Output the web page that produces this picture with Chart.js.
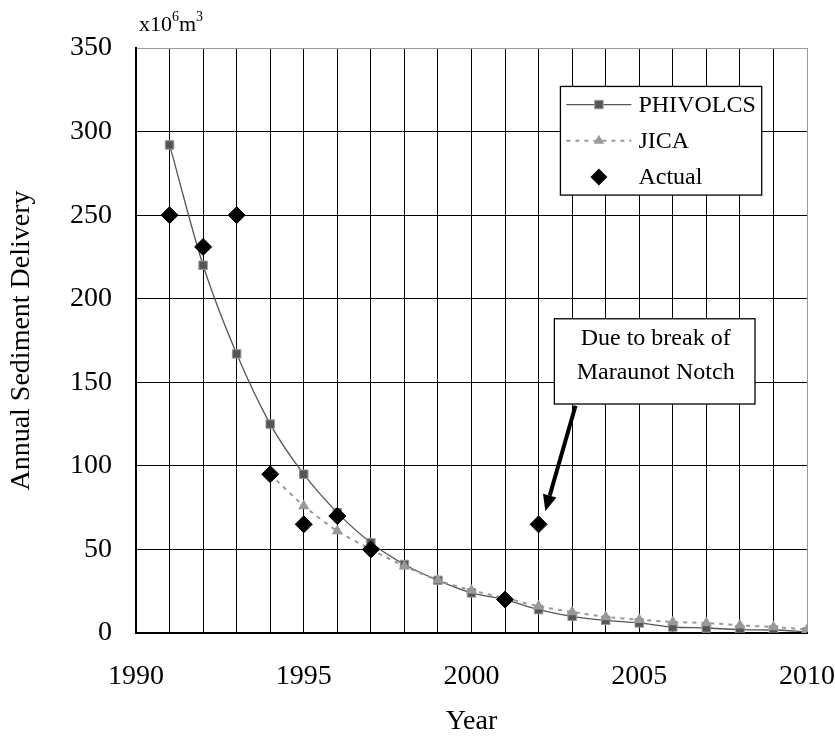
<!DOCTYPE html>
<html>
<head>
<meta charset="utf-8">
<script src="https://cdn.jsdelivr.net/npm/chart.js@4/dist/chart.umd.min.js"></script>
<style>
  html, body { margin: 0; padding: 0; background: #fff; }
  #wrap { width: 835px; height: 744px; }
</style>
</head>
<body>
<div id="wrap"><canvas id="chart" width="835" height="744"></canvas></div>
<script>
// --- data ---
const phivolcsYears = [1991, 1992, 1993, 1994, 1995, 1996, 1997, 1998, 1999, 2000,
                       2001, 2002, 2003, 2004, 2005, 2006, 2007, 2008, 2009, 2010];
const phivolcsValues = [292, 220, 167, 125, 95, 72, 54, 41, 31.5, 24,
                        20, 14, 10, 7.6, 6, 3.6, 3, 2, 1.8, 0.8];

const jicaYears = [1994, 1995, 1996, 1997, 1998, 1999, 2000, 2001, 2002,
                   2003, 2004, 2005, 2006, 2007, 2008, 2009, 2010];
const jicaValues = [95, 76, 61, 50, 40, 31.5, 25.5, 21, 16,
                    12.6, 9.6, 8, 6.6, 6, 4.6, 3.6, 2];

const actualYears = [1991, 1992, 1993, 1994, 1995, 1996, 1997, 2001, 2002];
const actualValues = [250, 231, 250, 95, 65, 70, 50, 20, 65];

const xTickLabels = [1990, 1995, 2000, 2005, 2010];
const yTicks = [0, 50, 100, 150, 200, 250, 300, 350];

const seriesNames = ["PHIVOLCS", "JICA", "Actual"];
const noteLines = ["Due to break of", "Maraunot Notch"];

const SERIF = "'Liberation Serif', 'Times New Roman', serif";

function pairs(xs, ys) {
    return xs.map((x, i) => ({ x, y: ys[i] }));
}

// legend box, note box and arrow, all in data units
const legendBox = { x0: 2002.65, x1: 2008.65, y0: 327, y1: 262 };
const noteBox = { x0: 2002.47, x1: 2008.45, y0: 188, y1: 137 };
const arrowFrom = { x: 2003.1, y: 136 };
const arrowTo = { x: 2002.2, y: 73 };

function drawMarker(ctx, style, x, y) {
    ctx.save();
    ctx.setLineDash([]);
    if (style === "rect") {
        ctx.fillStyle = "#555";
        ctx.strokeStyle = "#999";
        ctx.lineWidth = 1;
        ctx.fillRect(x - 4.2, y - 4.2, 8.4, 8.4);
        ctx.strokeRect(x - 4.2, y - 4.2, 8.4, 8.4);
    } else if (style === "triangle") {
        ctx.fillStyle = "#999";
        ctx.beginPath();
        ctx.moveTo(x, y - 6);
        ctx.lineTo(x + 5.2, y + 3);
        ctx.lineTo(x - 5.2, y + 3);
        ctx.closePath();
        ctx.fill();
    } else {
        ctx.fillStyle = "#000";
        ctx.beginPath();
        ctx.moveTo(x, y - 8.5);
        ctx.lineTo(x + 8.5, y);
        ctx.lineTo(x, y + 8.5);
        ctx.lineTo(x - 8.5, y);
        ctx.closePath();
        ctx.fill();
    }
    ctx.restore();
}

const overlayPlugin = {
    id: "overlay",
    afterDatasetsDraw(chart) {
        const { ctx, scales: { x, y }, chartArea } = chart;

        // unit label above the axis
        ctx.save();
        ctx.fillStyle = "#000";
        ctx.textBaseline = "alphabetic";
        ctx.textAlign = "left";
        let ux = chartArea.left + 3;
        const uy = 31;
        ctx.font = `22px ${SERIF}`;
        ctx.fillText("x10", ux, uy);
        ux += ctx.measureText("x10").width;
        ctx.font = `14px ${SERIF}`;
        ctx.fillText("6", ux, uy - 10);
        ux += ctx.measureText("6").width;
        ctx.font = `22px ${SERIF}`;
        ctx.fillText("m", ux, uy);
        ux += ctx.measureText("m").width;
        ctx.font = `14px ${SERIF}`;
        ctx.fillText("3", ux, uy - 10);
        ctx.restore();

        // legend
        const lx0 = x.getPixelForValue(legendBox.x0), lx1 = x.getPixelForValue(legendBox.x1);
        const ly0 = y.getPixelForValue(legendBox.y0), ly1 = y.getPixelForValue(legendBox.y1);
        ctx.save();
        ctx.fillStyle = "#fff";
        ctx.fillRect(lx0, ly0, lx1 - lx0, ly1 - ly0);
        ctx.strokeStyle = "#000";
        ctx.lineWidth = 1.3;
        ctx.strokeRect(lx0, ly0, lx1 - lx0, ly1 - ly0);
        const rowH = (ly1 - ly0) / 3;
        const styles = ["rect", "triangle", "rectRot"];
        seriesNames.forEach((name, i) => {
            const ry = ly0 + rowH * (i + 0.5);
            const s0 = lx0 + 6, s1 = lx0 + 71, sm = (s0 + s1) / 2;
            if (i === 0) {
                ctx.strokeStyle = "#555"; ctx.lineWidth = 1.3; ctx.setLineDash([]);
                ctx.beginPath(); ctx.moveTo(s0, ry); ctx.lineTo(s1, ry); ctx.stroke();
            } else if (i === 1) {
                ctx.strokeStyle = "#999"; ctx.lineWidth = 2; ctx.setLineDash([4, 5]);
                ctx.beginPath(); ctx.moveTo(s0, ry); ctx.lineTo(s1, ry); ctx.stroke();
            }
            drawMarker(ctx, styles[i], sm, ry);
            ctx.fillStyle = "#000";
            ctx.font = `24px ${SERIF}`;
            ctx.textBaseline = "middle";
            ctx.textAlign = "left";
            ctx.fillText(name, lx0 + 78, ry + 1);
        });
        ctx.restore();

        // note box
        const nx0 = x.getPixelForValue(noteBox.x0), nx1 = x.getPixelForValue(noteBox.x1);
        const ny0 = y.getPixelForValue(noteBox.y0), ny1 = y.getPixelForValue(noteBox.y1);
        ctx.save();
        ctx.fillStyle = "#fff";
        ctx.fillRect(nx0, ny0, nx1 - nx0, ny1 - ny0);
        ctx.strokeStyle = "#000";
        ctx.lineWidth = 1.3;
        ctx.strokeRect(nx0, ny0, nx1 - nx0, ny1 - ny0);
        ctx.fillStyle = "#000";
        ctx.font = `24px ${SERIF}`;
        ctx.textAlign = "center";
        ctx.textBaseline = "middle";
        ctx.fillText(noteLines[0], (nx0 + nx1) / 2 + 1, ny0 + 20);
        ctx.fillText(noteLines[1], (nx0 + nx1) / 2 + 1, ny0 + 54);

        // arrow
        const ax0 = x.getPixelForValue(arrowFrom.x), ay0 = y.getPixelForValue(arrowFrom.y);
        const ax1 = x.getPixelForValue(arrowTo.x), ay1 = y.getPixelForValue(arrowTo.y);
        const ang = Math.atan2(ay1 - ay0, ax1 - ax0);
        const headLen = 16, headW = 7;
        const bx = ax1 - headLen * Math.cos(ang), by = ay1 - headLen * Math.sin(ang);
        ctx.strokeStyle = "#000";
        ctx.lineWidth = 4;
        ctx.beginPath(); ctx.moveTo(ax0, ay0); ctx.lineTo(bx, by); ctx.stroke();
        ctx.beginPath();
        ctx.moveTo(ax1, ay1);
        ctx.lineTo(bx + headW * Math.sin(ang), by - headW * Math.cos(ang));
        ctx.lineTo(bx - headW * Math.sin(ang), by + headW * Math.cos(ang));
        ctx.closePath();
        ctx.fill();
        ctx.restore();
    },
};

new Chart(document.getElementById("chart"), {
    type: "scatter",
    data: {
        datasets: [
            {
                label: seriesNames[0],
                data: pairs(phivolcsYears, phivolcsValues),
                showLine: true,
                borderColor: "#555",
                borderWidth: 1.3,
                cubicInterpolationMode: "monotone",
                pointStyle: "rect",
                pointRadius: 6,
                pointBackgroundColor: "#555",
                pointBorderColor: "#999",
                pointBorderWidth: 1,
                order: 3,
            },
            {
                label: seriesNames[1],
                data: pairs(jicaYears, jicaValues),
                showLine: true,
                borderColor: "#999",
                borderWidth: 2,
                borderDash: [4, 5],
                tension: 0.2,
                pointStyle: "triangle",
                pointRadius: 6.5,
                pointBackgroundColor: "#999",
                pointBorderColor: "#999",
                pointBorderWidth: 0,
                order: 2,
            },
            {
                label: seriesNames[2],
                data: pairs(actualYears, actualValues),
                showLine: false,
                pointStyle: "rectRot",
                pointRadius: 8.5,
                pointBackgroundColor: "#000",
                pointBorderColor: "#000",
                pointBorderWidth: 1,
                order: 1,
            },
        ],
    },
    options: {
        responsive: false,
        animation: false,
        events: [],
        layout: { padding: { top: 48, right: 0, left: 0, bottom: 0 } },
        plugins: {
            legend: { display: false },
            tooltip: { enabled: false },
        },
        scales: {
            x: {
                type: "linear",
                min: 1990,
                max: 2010,
                afterFit(scale) {
                    scale.height = 111;
                    scale.paddingRight = 28;
                },
                afterBuildTicks(scale) {
                    const ticks = [];
                    for (let v = 1990; v <= 2010; v++) ticks.push({ value: v });
                    scale.ticks = ticks;
                },
                ticks: {
                    autoSkip: false,
                    maxRotation: 0,
                    padding: 27,
                    color: "#000",
                    font: { family: SERIF, size: 28 },
                    callback: (v) => (xTickLabels.includes(v) ? String(v) : ""),
                },
                grid: {
                    drawTicks: false,
                    color: (c) => (c.tick && c.tick.value === 2010 ? "#999" : "#000"),
                    lineWidth: 1,
                },
                border: { display: true, color: "#000", width: 2 },
                title: {
                    display: true,
                    text: "Year",
                    color: "#000",
                    font: { family: SERIF, size: 28 },
                    padding: { top: 0, bottom: 6 },
                },
            },
            y: {
                min: 0,
                max: 350,
                afterFit(scale) { scale.width = 136; },
                afterBuildTicks(scale) {
                    scale.ticks = yTicks.map((v) => ({ value: v }));
                },
                ticks: {
                    padding: 24,
                    color: "#000",
                    font: { family: SERIF, size: 28 },
                },
                grid: {
                    drawTicks: false,
                    color: (c) => (c.tick && c.tick.value === 350 ? "#999" : "#000"),
                    lineWidth: 1,
                },
                border: { display: true, color: "#000", width: 2 },
                title: {
                    display: true,
                    text: "Annual Sediment Delivery",
                    color: "#000",
                    font: { family: SERIF, size: 28 },
                    padding: { top: 5, bottom: 0 },
                },
            },
        },
    },
    plugins: [overlayPlugin],
});
</script>
</body>
</html>
